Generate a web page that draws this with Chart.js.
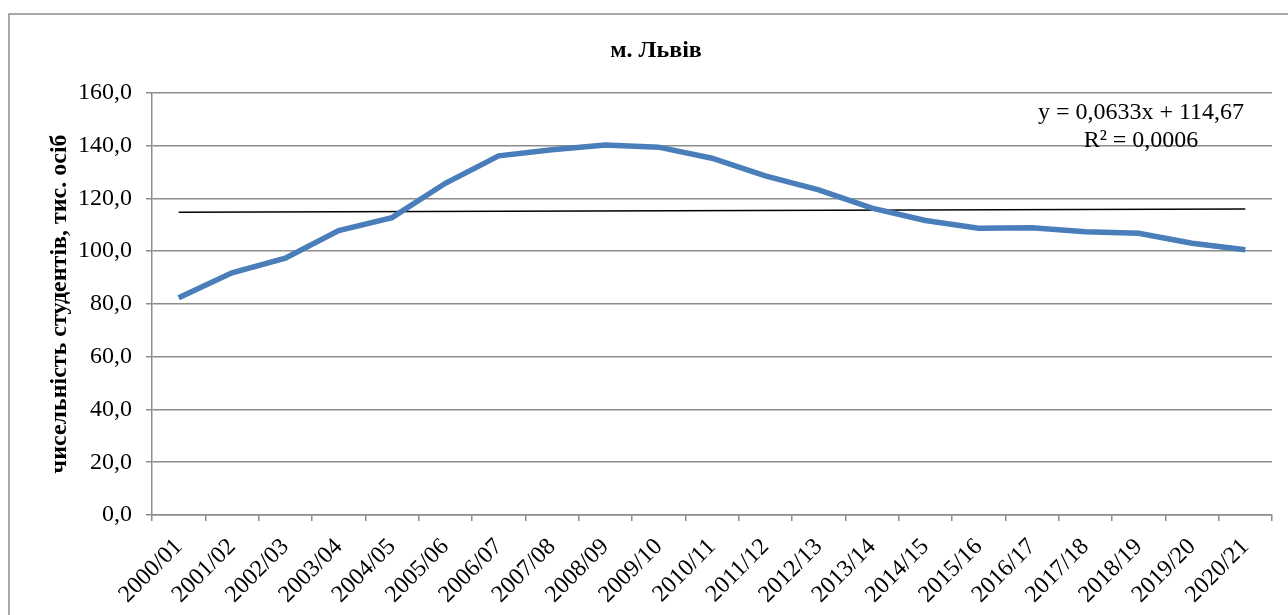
<!DOCTYPE html>
<html>
<head>
<meta charset="utf-8">
<script src="https://cdn.jsdelivr.net/npm/chart.js@4"></script>
<style>
  html, body { margin: 0; padding: 0; background: #fff; }
  #wrap { width: 1288px; height: 615px; }
</style>
</head>
<body>
<div id="wrap"><canvas id="myChart"></canvas></div>
<script>
'use strict';

var years = ['2000/01','2001/02','2002/03','2003/04','2004/05','2005/06','2006/07','2007/08','2008/09','2009/10',
  '2010/11','2011/12','2012/13','2013/14','2014/15','2015/16','2016/17','2017/18','2018/19','2019/20','2020/21'];

// thousand students
var students = [82.3, 91.8, 97.3, 107.8, 112.7, 125.7, 136.1, 138.4, 140.2, 139.4,
  135.2, 128.5, 123.2, 116.3, 111.6, 108.7, 108.9, 107.3, 106.8, 103.0, 100.5];

// linear trend, only the two ends (y = 0,0633x + 114,67)
var trend = [114.73, null, null, null, null, null, null, null, null, null,
  null, null, null, null, null, null, null, null, null, null, 116.0];

var eqLines = ['y = 0,0633x + 114,67', 'R² = 0,0006'];

var yTicks = { min: 0, max: 160, step: 20 };

var serif = '"Liberation Serif", "Times New Roman", serif';
var gridGray = '#8c8c8c';

// outer frame + trend equation
var extras = {
  id: 'extras',
  beforeDraw: function(chart) {
    var ctx = chart.ctx;
    ctx.save();
    ctx.strokeStyle = '#8c8c8c';
    ctx.lineWidth = 1.5;
    ctx.strokeRect(9, 14, 1300, 700);
    ctx.restore();
  },
  afterDatasetsDraw: function(chart) {
    var ctx = chart.ctx;
    var a = chart.chartArea;
    ctx.save();
    ctx.fillStyle = '#000';
    ctx.font = '24px ' + serif;
    ctx.textAlign = 'center';
    ctx.textBaseline = 'middle';
    ctx.fillText(eqLines[0], a.right - 131, a.top + 20);
    ctx.fillText(eqLines[1], a.right - 131, a.top + 48);
    ctx.restore();
  }
};

var myChart = new Chart(document.getElementById('myChart').getContext('2d'), {
  type: 'line',
  data: {
    labels: years,
    datasets: [{
      label: 'students',
      data: students,
      borderColor: '#4a7ebb',
      borderWidth: 5.5,
      pointRadius: 0,
      tension: 0,
      fill: false
    }, {
      label: 'trend',
      data: trend,
      borderColor: '#000',
      borderWidth: 1.5,
      pointRadius: 0,
      spanGaps: true,
      fill: false
    }]
  },
  options: {
    responsive: true,
    maintainAspectRatio: false,
    animation: false,
    layout: { padding: { left: 40, right: 16, top: 0, bottom: 0 } },
    plugins: {
      legend: { display: false },
      tooltip: { enabled: false },
      title: {
        display: true,
        text: 'м. Львів',
        color: '#000',
        font: { family: serif, size: 24, weight: 'bold' },
        padding: { top: 36, bottom: 28 }
      }
    },
    scales: {
      x: {
        type: 'category',
        offset: true,
        afterFit: function(scale) { scale.height = 100; },
        grid: {
          offset: true,
          drawOnChartArea: false,
          drawTicks: true,
          tickLength: 6,
          color: gridGray,
          lineWidth: 1.5
        },
        border: { display: true, color: gridGray, width: 1.5 },
        ticks: {
          color: '#000',
          font: { family: serif, size: 24 },
          maxRotation: 45,
          minRotation: 45,
          autoSkip: false,
          padding: 12
        }
      },
      y: {
        min: yTicks.min,
        max: yTicks.max,
        afterFit: function(scale) { scale.width = 112; },
        grid: {
          drawTicks: true,
          tickLength: 6,
          color: gridGray,
          lineWidth: 1.5
        },
        border: { display: true, color: gridGray, width: 1.5 },
        ticks: {
          stepSize: yTicks.step,
          color: '#000',
          padding: 14,
          font: { family: serif, size: 24 },
          callback: function(v) { return v.toFixed(1).replace('.', ','); }
        },
        title: {
          display: true,
          text: 'чисельність студентів, тис. осіб',
          color: '#000',
          font: { family: serif, size: 24, weight: 'bold' },
          padding: { top: 5, bottom: 0 }
        }
      }
    }
  },
  plugins: [extras]
});
</script>
</body>
</html>
